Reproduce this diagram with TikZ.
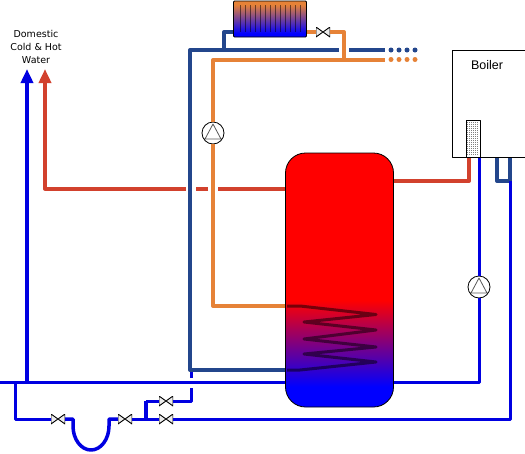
\documentclass[tikz,border=0pt]{standalone}
\usepackage{fontspec}
\setmainfont{Liberation Sans}
\newfontfamily\labelfont{DejaVu Sans}
\usetikzlibrary{arrows.meta}

\definecolor{mainsblue}{RGB}{0,0,225}
\definecolor{returnblue}{RGB}{35,70,140}
\definecolor{heatorange}{RGB}{230,130,55}
\definecolor{hotred}{RGB}{210,65,45}

\pgfdeclareverticalshading{tankfill}{100bp}{
  color(0bp)=(blue); color(29bp)=(blue); color(46bp)=(red); color(100bp)=(red)}
\pgfdeclareverticalshading{radfill}{100bp}{
  color(0bp)=(blue); color(30bp)=(blue); color(70bp)=(heatorange); color(100bp)=(heatorange)}

\tikzset{
  mains/.style={draw=mainsblue, line width=3pt},
  feed/.style={draw=mainsblue, line width=4pt},
  return/.style={draw=returnblue, line width=4pt},
  flow/.style={draw=heatorange, line width=4pt},
  hot/.style={draw=hotred, line width=4pt},
  coil/.style={draw=black, opacity=.5, line width=3pt},
  valvebox/.style={inner sep=0pt, minimum width=14pt, minimum height=10pt, path picture={
    \draw[fill=gray!15, line width=.9pt] (path picture bounding box.north west) -- (path picture bounding box.south east)
      -- (path picture bounding box.north east) -- (path picture bounding box.south west) -- cycle;}},
  pumpbox/.style={circle, draw, fill=white, inner sep=0pt, minimum size=22pt, line width=.8pt, path picture={
    \draw[gray!70!black, line width=.8pt] (0,-9) -- (8,6) -- (-8,6) -- cycle (-11,6) -- (11,6);}},
}

\begin{document}
\begin{tikzpicture}[x=1pt, y=-1pt, line join=round]

  %% tank, boiler, radiator
  \node[draw, line width=.8pt, rounded corners=20pt, minimum width=108pt, minimum height=254pt, shading=tankfill] (tank) at (339.5,280) {};
  \node[draw, line width=.8pt, fill=white, minimum width=76pt, minimum height=107pt] (boiler) at (490,104) {};
  \node at (487,65) (boilername) {\fontsize{12.5}{14}\selectfont Boiler};
  \node[draw, line width=1pt, fill=white, minimum width=14pt, minimum height=37pt] (burner) at (473,138.5) {};
  \foreach \y in {122,124,...,155}
    \draw[gray, line width=1pt, dash pattern=on 1pt off 1pt] (467,\y) -- (479,\y);
  \node[draw, line width=.8pt, rounded corners=1pt, minimum width=73pt, minimum height=36pt, shading=radfill] (radiator) at (270,19) {};
  \foreach \x in {240,245,...,302}
    \draw[black, opacity=.5, line width=.8pt] (\x,5) -- (\x,32);

  %% pumps, valves
  \node[pumpbox] (pumpcoil) at (213,133) {};
  \node[pumpbox] (pumpboiler) at (479,287) {};
  \node[valvebox] (valverad) at (323,32) {};
  \node[valvebox] (valvein) at (58,419) {};
  \node[valvebox] (valvetrap) at (125,419) {};
  \node[valvebox] (valveupper) at (166,401) {};
  \node[valvebox] (valvelower) at (166,419) {};

  %% primary flow
  \draw[flow] (tank.west |- 0,306) -- (213,306) -- (pumpcoil.south);
  \draw[flow] (pumpcoil.north) -- (213,60) -- (385,60);
  \draw[flow] (344,60) -- (344,32) -- (valverad.east);
  \draw[flow] (valverad.west) -- (radiator.east |- valverad);
  \foreach \x in {391,399,407,415} \fill[heatorange] (\x,59.5) circle (2.5);

  %% return
  \draw[return] (tank.west |- 0,370) -- (190,370) -- (190,50) -- (339,50);
  \draw[return] (349,50) -- (385,50);
  \draw[return] (224,50) -- (224,32) -- (radiator.west |- 0,32);
  \draw[return] (497,158) -- (497,181) -- (510,181) -- (510,158);
  \foreach \x in {391,399,407,415} \fill[returnblue] (\x,50) circle (2.5);

  %% cold
  \draw[mains] (0,382.5) -- (tank.west |- 0,382.5);
  \draw[mains] (tank.east |- 0,382.5) -- (479,382.5) -- (pumpboiler.south);
  \draw[mains] (pumpboiler.north) -- (479,158);
  \draw[mains] (15,382.5) -- (15,419) -- (valvein.west);
  \draw[mains, line width=3.5pt] (valvein.east) -- (73,419) -- (73,426) arc[start angle=180, end angle=0, x radius=18, y radius=24] -- (109,419) -- (valvetrap.west);
  \draw[mains] (valvetrap.east) -- (valvelower.west);
  \draw[mains] (valvelower.east) -- (510,419) -- (510,181);
  \draw[mains, line width=4pt] (146,419) -- (146,401);
  \draw[mains] (146,401) -- (valveupper.west);
  \draw[mains] (valveupper.east) -- (191,401) -- (191,388);
  \draw[mains] (191,378) -- (191,372);
  \draw[feed, -{Triangle[length=14pt, width=12pt]}] (27,382.5) -- (27,69);

  %% hot
  \draw[hot] (boiler.south -| 469,0) -- (469,181) -- (tank.east |- 0,181);
  \draw[hot] (tank.west |- 0,188.5) -- (218,188.5);
  \draw[hot] (208,188.5) -- (196,188.5);
  \draw[hot, -{Triangle[length=14pt, width=12pt]}] (186,188.5) -- (45,188.5) -- (45,69);

  %% coil
  \draw[coil] (287,306) -- (300,306) -- (376,314.5) -- (304,322) -- (376,330) -- (304,339) -- (376,347) -- (304,354) -- (376,362) -- (300,370) -- (287,370);

  %% labels
  \node[align=center, font=\labelfont\fontsize{9.5}{13}\selectfont] (drawoff) at (36,47) {Domestic\\Cold \& Hot\\Water};

  \pgfresetboundingbox
  \path[use as bounding box] (0,0) rectangle (525,453);
\end{tikzpicture}
\end{document}
